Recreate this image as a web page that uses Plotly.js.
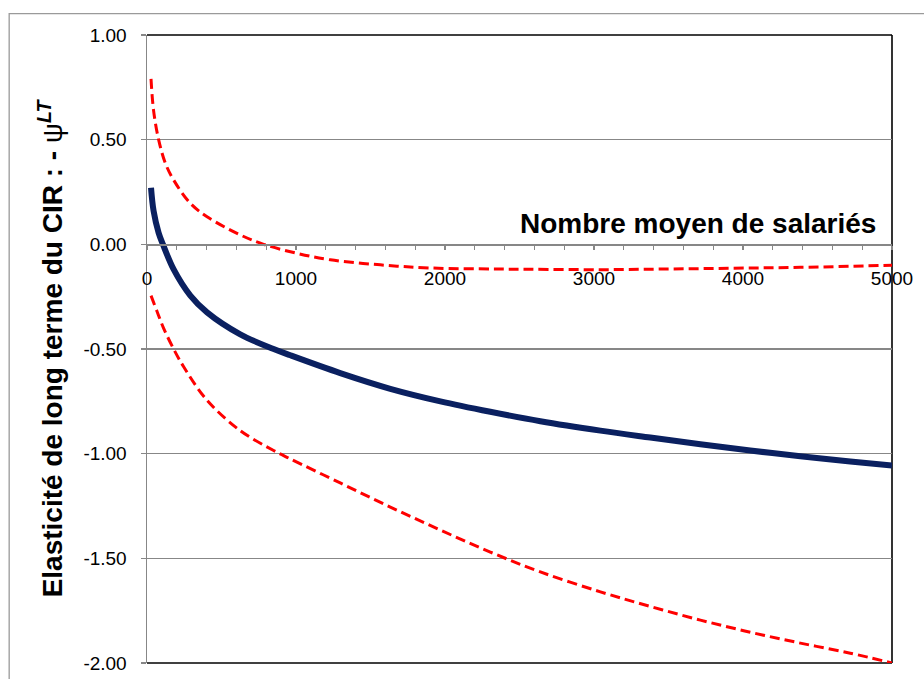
<!DOCTYPE html>
<html>
<head>
<meta charset="utf-8">
<script src="https://cdn.plot.ly/plotly-3.0.1.min.js"></script>
<style>html,body{margin:0;padding:0;background:#fff;}#chart{width:924px;height:679px;}</style>
</head>
<body>
<div id="chart"></div>
<script>
// Central estimate of the long-run elasticity
const xCentral = [27, 44, 78, 107, 179, 291, 403, 626, 850, 962, 1297, 1633, 1969, 2304, 2640, 3043, 3378, 3714, 4049, 4385, 4720, 5000];
const yCentral = [0.27, 0.16, 0.055, 0.0, -0.12, -0.245, -0.325, -0.43, -0.50, -0.53, -0.615, -0.69, -0.75, -0.80, -0.845, -0.89, -0.923, -0.955, -0.985, -1.012, -1.037, -1.057];

// Upper confidence bound
const xUpper = [27, 44, 78, 123, 179, 291, 403, 626, 783, 1007, 1230, 1566, 1901, 2349, 2573, 3043, 3490, 3937, 4385, 5000];
const yUpper = [0.79, 0.64, 0.50, 0.388, 0.307, 0.196, 0.132, 0.045, 0.0, -0.043, -0.074, -0.098, -0.113, -0.118, -0.119, -0.121, -0.118, -0.114, -0.11, -0.10];

// Lower confidence bound
const xLower = [27, 67, 111, 179, 246, 403, 626, 850, 962, 1297, 1633, 1969, 2304, 2640, 3043, 3378, 3714, 4049, 4385, 4720, 5000];
const yLower = [-0.245, -0.32, -0.40, -0.50, -0.585, -0.745, -0.89, -0.985, -1.025, -1.14, -1.255, -1.365, -1.47, -1.565, -1.66, -1.73, -1.795, -1.853, -1.905, -1.953, -2.0];

// Tick labels
const xTickVals = [0, 1000, 2000, 3000, 4000, 5000];
const xTickText = ['0', '1000', '2000', '3000', '4000', '5000'];
const yTickVals = [1, 0.5, 0, -0.5, -1, -1.5, -2];
const yTickText = ['1.00', '0.50', '0.00', '-0.50', '-1.00', '-1.50', '-2.00'];

const yTitle = 'Elasticité de long terme du CIR : - <span style="font-weight:normal">ψ</span><sup><i>LT</i></sup>';
const xTitle = 'Nombre moyen de salariés';

const FONT = 'Liberation Sans, Arial, sans-serif';
const GRAY = '#878787';

const traces = [
  {x: xUpper, y: yUpper, mode: 'lines', line: {color: '#ff0000', width: 3, dash: '10px,5px', shape: 'spline', smoothing: 1}, hoverinfo: 'skip', showlegend: false},
  {x: xLower, y: yLower, mode: 'lines', line: {color: '#ff0000', width: 3, dash: '10px,5px', shape: 'spline', smoothing: 1}, hoverinfo: 'skip', showlegend: false},
  {x: xCentral, y: yCentral, mode: 'lines', line: {color: '#0a2060', width: 6, shape: 'spline', smoothing: 1}, hoverinfo: 'skip', showlegend: false}
];

const layout = {
  width: 924, height: 679,
  margin: {l: 147, r: 32, t: 35, b: 16},
  paper_bgcolor: '#ffffff', plot_bgcolor: '#ffffff',
  showlegend: false,
  font: {family: FONT, color: '#000'},
  xaxis: {
    range: [0, 5000], anchor: 'free', position: 2/3,
    tickmode: 'array', tickvals: xTickVals, ticktext: xTickText,
    showline: true, linecolor: GRAY, linewidth: 1.5,
    ticks: 'outside', ticklen: 4, tickcolor: GRAY, tickwidth: 1.2,
    minor: {tickmode: 'linear', tick0: 0, dtick: 200, ticks: 'outside', ticklen: 4, tickcolor: GRAY, tickwidth: 1.2, showgrid: false},
    showgrid: false, zeroline: false,
    tickfont: {family: FONT, size: 19, color: '#000'},
    ticklabelstandoff: 12
  },
  yaxis: {
    range: [-2, 1], domain: [0, 1],
    tickmode: 'array', tickvals: yTickVals, ticktext: yTickText,
    showline: true, linecolor: GRAY, linewidth: 1.5,
    ticks: 'outside', ticklen: 5, tickcolor: GRAY, tickwidth: 1.2,
    showgrid: true, gridcolor: GRAY, gridwidth: 1.3,
    zeroline: false,
    tickfont: {family: FONT, size: 19, color: '#000'},
    ticklabelstandoff: 10,
    title: {text: yTitle, font: {family: FONT, size: 28, color: '#000', weight: 'bold'}, standoff: 12}
  },
  shapes: [
    {type: 'line', xref: 'paper', yref: 'paper', x0: 0, x1: 1, y0: 1, y1: 1, line: {color: '#000', width: 1.6}, layer: 'between'},
    {type: 'line', xref: 'paper', yref: 'paper', x0: 1, x1: 1, y0: 0, y1: 1, line: {color: '#000', width: 1.6}, layer: 'between'},
    {type: 'line', xref: 'paper', yref: 'paper', x0: 0, x1: 1, y0: 0, y1: 0, line: {color: '#000', width: 1.6}, layer: 'between'},
    {type: 'rect', xref: 'paper', yref: 'paper', x0: -0.185, x1: 1.06, y0: -0.05, y1: 1.034, line: {color: '#9a9a9a', width: 1.3}, fillcolor: 'rgba(0,0,0,0)', layer: 'below'}
  ],
  annotations: [
    {text: xTitle, xref: 'paper', yref: 'paper', x: 0.981, y: 0.672, xanchor: 'right', yanchor: 'bottom', showarrow: false,
     font: {family: FONT, size: 28, color: '#000', weight: 'bold'}}
  ]
};

Plotly.newPlot('chart', traces, layout, {staticPlot: true, displayModeBar: false});
</script>
</body>
</html>
